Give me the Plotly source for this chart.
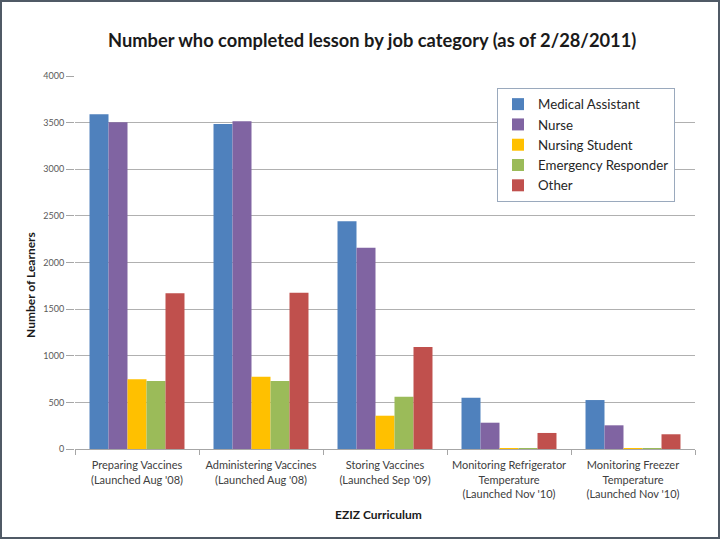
import plotly.graph_objects as go

categories = [
    "Preparing Vaccines<br>(Launched Aug '08)",
    "Administering Vaccines<br>(Launched Aug '08)",
    "Storing Vaccines<br>(Launched Sep '09)",
    "Monitoring Refrigerator<br>Temperature<br>(Launched Nov '10)",
    "Monitoring Freezer<br>Temperature<br>(Launched Nov '10)",
]
medical_assistant = [3590, 3485, 2442, 550, 525]
nurse = [3505, 3515, 2158, 282, 254]
nursing_student = [747, 775, 357, 8, 6]
emergency_responder = [729, 729, 561, 6, 5]
other = [1670, 1676, 1094, 172, 158]

series = [
    ("Medical Assistant", medical_assistant, "#4F81BD"),
    ("Nurse", nurse, "#8064A2"),
    ("Nursing Student", nursing_student, "#FFC000"),
    ("Emergency Responder", emergency_responder, "#9BBB59"),
    ("Other", other, "#C0504D"),
]

fig = go.Figure()
for name, vals, color in series:
    fig.add_trace(go.Bar(x=categories, y=vals, name=name,
                         marker=dict(color=color, line=dict(width=0))))

L, R, T, B = 75, 25, 76, 91
pw, ph = 720 - L - R, 540 - T - B
FONT = "Lato, Open Sans, sans-serif"

fig.update_layout(
    width=720, height=540,
    margin=dict(l=L, r=R, t=T, b=B, autoexpand=False),
    paper_bgcolor="white", plot_bgcolor="white",
    barmode="group", bargap=0.234, bargroupgap=0,
    font=dict(family=FONT, color="#404040"),
    showlegend=True,
    legend=dict(
        x=(497 - L) / pw, y=(449 - 88) / ph, xanchor="left", yanchor="top",
        bordercolor="#9aa9bd", borderwidth=1, bgcolor="white",
        font=dict(size=13.3, color="#262626", family=FONT),
        itemwidth=30, tracegroupgap=0,
    ),
    xaxis=dict(
        automargin=False, tickangle=0,
        showline=True, linecolor="#a6a6a6", linewidth=1,
        ticks="outside", tickson="boundaries", ticklen=5, tickcolor="#a6a6a6",
        ticklabelstandoff=6,
        tickfont=dict(size=11, color="#404040", family=FONT),
        showgrid=False,
    ),
    yaxis=dict(
        automargin=False,
        range=[0, 4000], dtick=500, tick0=0,
        showgrid=True, gridcolor="#b0b0b0", gridwidth=1,
        showline=False, zeroline=False,
        ticks="outside", ticklen=8, tickcolor="#a6a6a6",
        tickfont=dict(size=9, color="#595959", family=FONT),
    ),
    annotations=[
        dict(text="<b>Number who completed lesson by job category (as of 2/28/2011)</b>",
             xref="paper", yref="paper", x=(372 - L) / pw, y=(449 - 40) / ph,
             xanchor="center", yanchor="middle", showarrow=False,
             font=dict(size=18.3, color="#1a1a1a", family=FONT)),
        dict(text="<b>Number of Learners</b>", textangle=-90,
             xref="paper", yref="paper", x=(30 - L) / pw, y=(449 - 285) / ph,
             xanchor="center", yanchor="middle", showarrow=False,
             font=dict(size=12, color="#1a1a1a", family=FONT)),
        dict(text="<b>EZIZ Curriculum</b>",
             xref="paper", yref="paper", x=(378 - L) / pw, y=(449 - 514) / ph,
             xanchor="center", yanchor="middle", showarrow=False,
             font=dict(size=12, color="#1a1a1a", family=FONT)),
    ],
    shapes=[
        dict(type="rect", xref="paper", yref="paper",
             x0=(1 - L) / pw, x1=(719 - L) / pw, y0=(449 - 538) / ph, y1=(449 - 1) / ph,
             line=dict(color="#505a66", width=2), fillcolor="rgba(0,0,0,0)", layer="above"),
    ],
)

fig.write_html("out.html", config={"displayModeBar": False},
               post_script="document.body.style.margin='0';")
